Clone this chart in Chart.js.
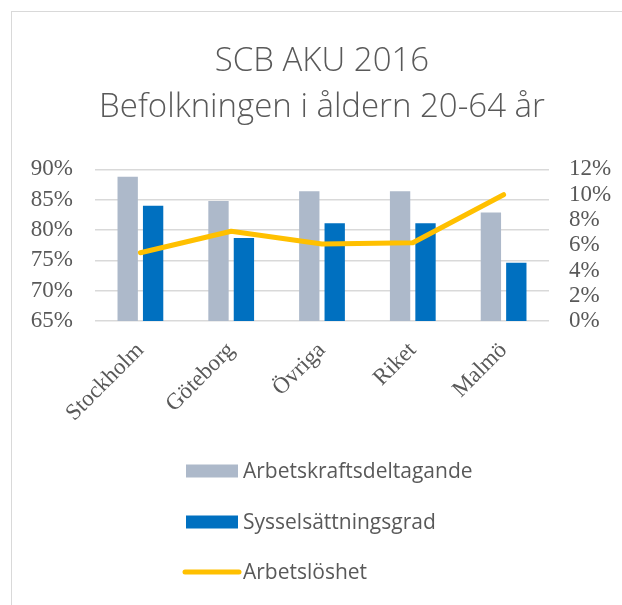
<!DOCTYPE html>
<html lang="sv">
<head>
  <meta charset="utf-8" />
  <title>SCB AKU 2016</title>
  <script src="https://cdn.jsdelivr.net/npm/chart.js@4.4.4/dist/chart.umd.min.js"></script>
  <style>
    html, body { margin: 0; padding: 0; background: #fff; overflow: hidden; }
    #wrap { position: relative; width: 622px; height: 605px; }
    #frame { position: absolute; left: 11px; top: 11px; width: 640px; height: 640px; border: 1.5px solid #d9d9d9; }
    #stage { position: absolute; left: 0; top: 0; }
  </style>
</head>
<body>
  <div id="wrap">
    <div id="frame"></div>
    <canvas id="stage" width="622" height="605"></canvas>
  </div>

  <script>
    // data
    const regions = ['Stockholm', 'Göteborg', 'Övriga', 'Riket', 'Malmö'];
    const arbetskraft = [88.8, 84.8, 86.4, 86.4, 82.9];
    const syssel = [84.0, 78.7, 81.1, 81.1, 74.6];
    const arbetsloshet = [5.4, 7.1, 6.1, 6.2, 10.0];

    const grey = '#595959';
    const serif = "'Liberation Serif', 'DejaVu Serif', serif";
    const sans = "'Open Sans', 'Noto Sans', sans-serif";

    // vertical legend under the plot, like the Excel original
    const stackedLegend = {
      id: 'stackedLegend',
      afterDraw(chart) {
        const ctx = chart.ctx;
        const x0 = 186, x1 = 238, textX = 243;
        const rows = [471, 522, 572];
        ctx.save();
        ctx.font = '21px ' + sans;
        ctx.textBaseline = 'middle';
        chart.data.datasets.forEach((ds, i) => {
          const y = rows[i];
          if (ds.type === 'line') {
            ctx.strokeStyle = ds.borderColor;
            ctx.lineWidth = 5;
            ctx.lineCap = 'round';
            ctx.beginPath();
            ctx.moveTo(x0 - 1, y);
            ctx.lineTo(x1 + 1, y);
            ctx.stroke();
          } else {
            ctx.fillStyle = ds.backgroundColor;
            ctx.fillRect(x0, y - 6.5, x1 - x0, 13);
          }
          ctx.fillStyle = grey;
          ctx.fillText(ds.label, textX, y + 1);
        });
        ctx.restore();
      }
    };

    new Chart(document.getElementById('stage'), {
      type: 'bar',
      data: {
        labels: regions,
        datasets: [{
          label: 'Arbetskraftsdeltagande',
          data: arbetskraft,
          backgroundColor: '#adb9ca',
          yAxisID: 'y',
          order: 2,
          categoryPercentage: 0.56,
          barPercentage: 0.8
        }, {
          label: 'Sysselsättningsgrad',
          data: syssel,
          backgroundColor: '#0070c0',
          yAxisID: 'y',
          order: 2,
          categoryPercentage: 0.56,
          barPercentage: 0.8
        }, {
          type: 'line',
          label: 'Arbetslöshet',
          data: arbetsloshet,
          borderColor: '#ffc000',
          backgroundColor: '#ffc000',
          borderWidth: 5,
          borderCapStyle: 'round',
          borderJoinStyle: 'round',
          pointRadius: 0,
          tension: 0,
          yAxisID: 'y1',
          order: 1
        }]
      },
      options: {
        responsive: false,
        animation: false,
        devicePixelRatio: 1,
        layout: {
          padding: { left: 31, right: 9, top: 0, bottom: 162 }
        },
        plugins: {
          legend: { display: false },
          tooltip: { enabled: false },
          title: {
            display: true,
            text: ['SCB AKU 2016', 'Befolkningen i åldern 20-64 år'],
            color: grey,
            font: { family: sans, size: 33, weight: 300, lineHeight: 1.4 },
            padding: { top: 38, bottom: 39 }
          }
        },
        scales: {
          x: {
            grid: { display: false, drawTicks: false },
            border: { display: false },
            ticks: {
              color: grey,
              font: { family: serif, size: 23 },
              minRotation: 45,
              maxRotation: 45,
              padding: 16
            },
            afterFit(scale) {
              scale.paddingLeft = 0;
              scale.paddingRight = 0;
            }
          },
          y: {
            position: 'left',
            min: 65,
            max: 90,
            grid: { color: '#d9d9d9', lineWidth: 1.5, drawTicks: false },
            border: { display: false },
            ticks: {
              stepSize: 5,
              autoSkip: false,
              color: grey,
              font: { family: serif, size: 23 },
              padding: 22,
              callback: v => v + '%'
            },
            afterFit(scale) { scale.width = 64; }
          },
          y1: {
            position: 'right',
            min: 0,
            max: 12,
            grid: { display: false, drawTicks: false },
            border: { display: false },
            ticks: {
              stepSize: 2,
              autoSkip: false,
              color: grey,
              font: { family: serif, size: 23 },
              padding: 20,
              callback: v => v + '%'
            },
            afterFit(scale) { scale.width = 64; }
          }
        }
      },
      plugins: [stackedLegend]
    });
  </script>
</body>
</html>
